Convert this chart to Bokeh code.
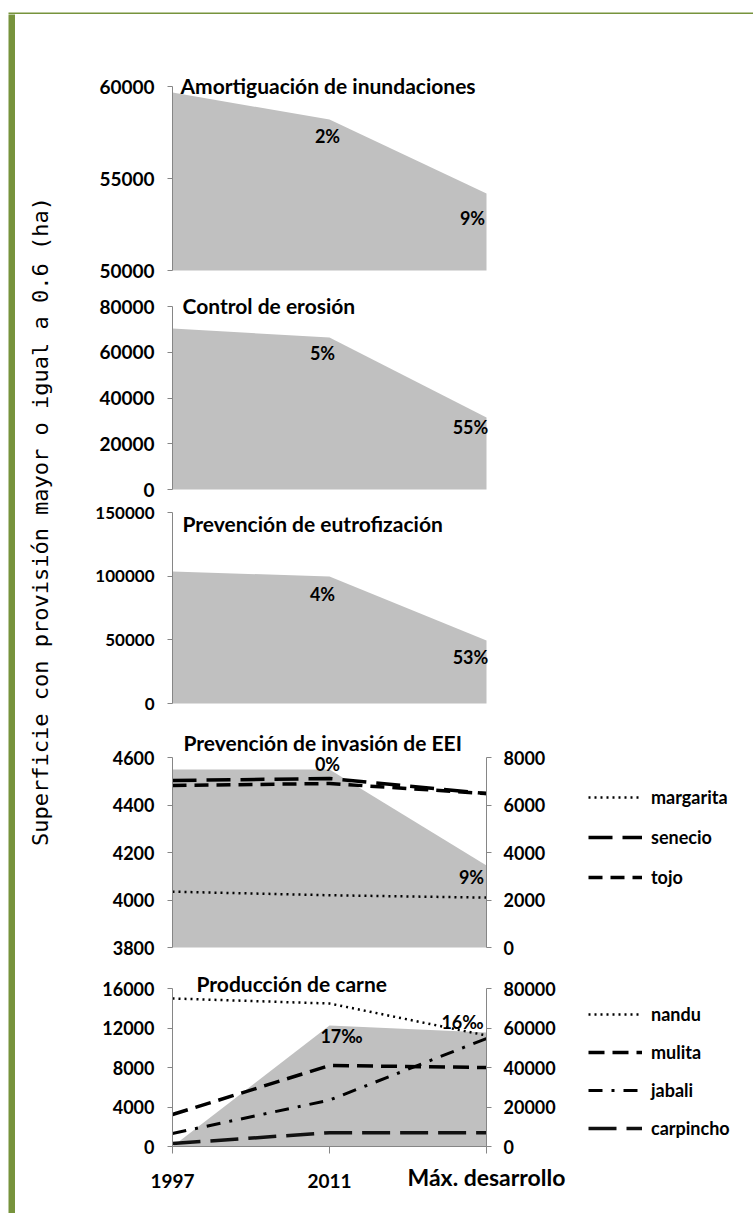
import math
from bokeh.plotting import figure
from bokeh.models import (Range1d, LinearAxis, FixedTicker, PrintfTickFormatter,
                          Label, Legend, LegendItem)
from bokeh.layouts import column, row
from bokeh.embed import file_html
from bokeh.resources import INLINE

# ---------------- data ----------------
periods = ["1997", "2011", "Máx. desarrollo"]
xpos = [0, 1, 2]

titles = ["Amortiguación de inundaciones", "Control de erosión",
          "Prevención de eutrofización", "Prevención de invasión de EEI",
          "Producción de carne"]
ylabel = "Superficie con provisión mayor o igual a 0.6 (ha)"

amortiguacion = [59670, 58200, 54180]
amortiguacion_pct = ["", "2%", "9%"]
erosion = [70380, 66450, 31480]
erosion_pct = ["", "5%", "55%"]
eutrofizacion = [103660, 99740, 49480]
eutrofizacion_pct = ["", "4%", "53%"]
invasion = [4550, 4550, 4145]
invasion_pct = ["", "0%", "9%"]
carne = [0, 12250, 11550]
carne_pct = ["", "17‰", "16‰"]

invasoras = ["margarita", "senecio", "tojo"]
margarita = [2350, 2200, 2100]
senecio = [7030, 7115, 6480]
tojo = [6820, 6905, 6480]

especies_carne = ["nandu", "mulita", "jabali", "carpincho"]
nandu = [74950, 72400, 56200]
mulita = [16200, 41000, 40000]
jabali = [6600, 23500, 54700]
carpincho = [1500, 7000, 7000]

ticks1 = [50000, 55000, 60000]
ticks2 = [0, 20000, 40000, 60000, 80000]
ticks3 = [0, 50000, 100000, 150000]
ticks4 = [3800, 4000, 4200, 4400, 4600]
ticks4r = [0, 2000, 4000, 6000, 8000]
ticks5 = [0, 4000, 8000, 12000, 16000]
ticks5r = [0, 20000, 40000, 60000, 80000]

# ---------------- style / layout (page pixel geometry) ----------------
FONT = "Lato"
AXIS_GRAY = "#868686"
AREA_GRAY = "#c0c0c0"
GREEN = "#77933c"
FIG_LEFT = 90      # page x where the panel figures start
FIG_RIGHT = 753
FRAME_LEFT = 92
X0_PX = 172        # page x of first period
X2_PX = 486        # page x of last period

DOT = dict(line_color="black", line_width=2.5, line_dash="2 4")
LONGDASH = dict(line_color="black", line_width=3.5, line_dash="24 10")
DASH = dict(line_color="black", line_width=3.5, line_dash="14 8")
DASH2 = dict(line_color="black", line_width=3.5, line_dash="16 8")
DASHDOT = dict(line_color="black", line_width=3, line_dash="14 9 3 9")
LONGDASH2 = dict(line_color="#111111", line_width=3.5, line_dash="28 10")


def style_axis(ax, size, standoff=13):
    ax.axis_line_color = AXIS_GRAY
    ax.major_tick_line_color = AXIS_GRAY
    ax.major_tick_out = 5
    ax.major_tick_in = 0
    ax.minor_tick_line_color = None
    ax.major_label_text_font = FONT
    ax.major_label_text_font_style = "bold"
    ax.major_label_text_font_size = size
    ax.major_label_text_color = "black"
    ax.major_label_standoff = standoff


def y_range_for(lo, hi, hi_px, lo_px, frame_top, frame_bot):
    per = (hi - lo) / (lo_px - hi_px)
    return Range1d(lo - (frame_bot - lo_px) * per, hi + (hi_px - frame_top) * per)


def x_range_for():
    per = (xpos[-1] - xpos[0]) / (X2_PX - X0_PX)
    return Range1d(xpos[0] - (X0_PX - FRAME_LEFT) * per,
                   xpos[-1] + (FIG_RIGHT - X2_PX) * per)


class Panel:
    def __init__(self, fig_top, fig_bot, hi_px, lo_px, frame_top, frame_bot,
                 ticks, tick_size, title, title_xy, right=None):
        self.frame_bot = frame_bot
        lo, hi = ticks[0], ticks[-1]
        p = figure(width=FIG_RIGHT - FIG_LEFT, height=fig_bot - fig_top,
                   x_range=x_range_for(),
                   y_range=y_range_for(lo, hi, hi_px, lo_px, frame_top, frame_bot),
                   x_axis_location=None, y_axis_location=None,
                   toolbar_location=None, output_backend="svg",
                   min_border_left=FRAME_LEFT - FIG_LEFT, min_border_right=0,
                   min_border_top=frame_top - fig_top,
                   min_border_bottom=fig_bot - frame_bot)
        p.outline_line_color = None
        p.grid.visible = False
        ax = LinearAxis(ticker=FixedTicker(ticks=ticks), bounds=(lo, hi),
                        fixed_location=xpos[0],
                        formatter=PrintfTickFormatter(format="%d"))
        style_axis(ax, tick_size)
        p.add_layout(ax, "left")
        if right is not None:
            rlo, rhi = right[0], right[-1]
            p.extra_y_ranges = {"r": y_range_for(rlo, rhi, hi_px, lo_px, frame_top, frame_bot)}
            axr = LinearAxis(y_range_name="r", ticker=FixedTicker(ticks=right),
                             bounds=(rlo, rhi), fixed_location=xpos[-1],
                             formatter=PrintfTickFormatter(format="%d"))
            style_axis(axr, tick_size, standoff=12)
            p.add_layout(axr, "right")
        self.p = p
        self.text(title, title_xy[0], title_xy[1], "21px", align="left")
        self.lo = lo

    def text(self, txt, page_x, page_y, size, align="center"):
        self.p.add_layout(Label(x=page_x - FRAME_LEFT, y=self.frame_bot - page_y,
                                x_units="screen", y_units="screen", text=txt,
                                text_font=FONT, text_font_style="bold",
                                text_font_size=size, text_align=align,
                                text_baseline="middle", text_color="black"))

    def area(self, vals):
        self.p.varea(x=xpos, y1=self.lo, y2=vals, fill_color=AREA_GRAY, fill_alpha=1.0)

    def pct(self, i, yv, txt, dx, dy):
        self.p.add_layout(Label(x=xpos[i], y=yv, x_offset=dx, y_offset=dy, text=txt,
                                text_font=FONT, text_font_style="bold",
                                text_font_size="18px", text_align="center",
                                text_baseline="middle", text_color="black"))

    def legend(self, names, rends, legend_bottom_px, spacing):
        leg = Legend(items=[LegendItem(label=n, renderers=[r]) for n, r in zip(names, rends)],
                     location=(588 - FRAME_LEFT, self.frame_bot - legend_bottom_px),
                     orientation="vertical",
                     glyph_width=54, glyph_height=22, label_height=22,
                     spacing=spacing, padding=0, margin=0, label_standoff=9,
                     border_line_color=None, background_fill_alpha=0,
                     label_text_font=FONT, label_text_font_style="bold",
                     label_text_font_size="18px", label_text_color="black")
        self.p.add_layout(leg)


def blank(w, h, color="white"):
    f = figure(width=w, height=h, x_range=Range1d(0, 1), y_range=Range1d(0, 1),
               x_axis_location=None, y_axis_location=None, toolbar_location=None,
               output_backend="svg", min_border=0,
               background_fill_color=color, border_fill_color=color)
    f.outline_line_color = None
    f.grid.visible = False
    return f


# Panel 1
P1 = Panel(14, 288, 86, 270, 70, 280, ticks1, "19px", titles[0], (180, 85))
P1.area(amortiguacion)
P1.pct(1, amortiguacion[1], amortiguacion_pct[1], -2, -16)
P1.pct(2, amortiguacion[2], amortiguacion_pct[2], -14, -24)

# Panel 2
P2 = Panel(288, 500, 306, 489, 294, 499, ticks2, "19px", titles[1], (182, 305))
P2.area(erosion)
P2.pct(1, erosion[1], erosion_pct[1], -7, -16)
P2.pct(2, erosion[2], erosion_pct[2], -16, -10)

# Panel 3
P3 = Panel(500, 720, 512, 703, 501, 714, ticks3, "17px", titles[2], (182, 523))
P3.area(eutrofizacion)
P3.pct(1, eutrofizacion[1], eutrofizacion_pct[1], -7, -18)
P3.pct(2, eutrofizacion[2], eutrofizacion_pct[2], -16, -17)

# Panel 4
P4 = Panel(720, 960, 757, 947, 730, 958, ticks4, "18px", titles[3], (183, 742),
           right=ticks4r)
P4.area(invasion)
r_marg = P4.p.line(xpos, margarita, y_range_name="r", **DOT)
r_sene = P4.p.line(xpos, senecio, y_range_name="r", **LONGDASH)
r_tojo = P4.p.line(xpos, tojo, y_range_name="r", **DASH)
P4.pct(1, invasion[1], invasion_pct[1], -2, 5)
P4.pct(2, invasion[2], invasion_pct[2], -15, -11)
P4.legend(invasoras, [r_marg, r_sene, r_tojo], 888, 18)

# Panel 5
P5 = Panel(960, 1213, 988, 1146, 972, 1205, ticks5, "18px", titles[4], (196, 983),
           right=ticks5r)
ax5b = LinearAxis(ticker=FixedTicker(ticks=xpos), fixed_location=ticks5[0],
                  bounds=(xpos[0], xpos[-1]),
                  major_label_overrides={0: periods[0], 1: periods[1], 2: ""})
style_axis(ax5b, "19px", standoff=20)
ax5b.major_tick_out = 7
P5.p.add_layout(ax5b, "below")
ax5c = LinearAxis(ticker=FixedTicker(ticks=[xpos[2]]), fixed_location=ticks5[0],
                  major_label_overrides={2: periods[2]})
style_axis(ax5c, "23px", standoff=11)
ax5c.axis_line_color = None
ax5c.major_tick_line_color = None
P5.p.add_layout(ax5c, "below")
P5.area(carne)
r_nandu = P5.p.line(xpos, nandu, y_range_name="r", **DOT)
r_mul = P5.p.line(xpos, mulita, y_range_name="r", **DASH2)
r_jab = P5.p.line(xpos, jabali, y_range_name="r", **DASHDOT)
r_carp = P5.p.line(xpos, carpincho, y_range_name="r", **LONGDASH2)
P5.pct(1, carne[1], carne_pct[1], 12, -10)
P5.pct(2, carne[2], carne_pct[2], -24, 10)
P5.legend(especies_carne, [r_nandu, r_mul, r_jab, r_carp], 1139, 16)

# frame decorations and axis title
H = 1199
top_space = blank(753, 7)
top_row = row(blank(8, 7), blank(745, 7, GREEN))
lab = blank(75, H)
lab.add_layout(Label(x=25, y=692, x_units="screen", y_units="screen", text=ylabel,
                     angle=math.pi / 2, text_align="center", text_baseline="middle",
                     text_font="DejaVu Sans Mono", text_font_size="22px",
                     text_color="black"))

panels = column(P1.p, P2.p, P3.p, P4.p, P5.p)
layout = column(top_space, top_row, row(blank(8, H), blank(7, H, GREEN), lab, panels))

open("out.html", "w").write(file_html(layout, INLINE))
